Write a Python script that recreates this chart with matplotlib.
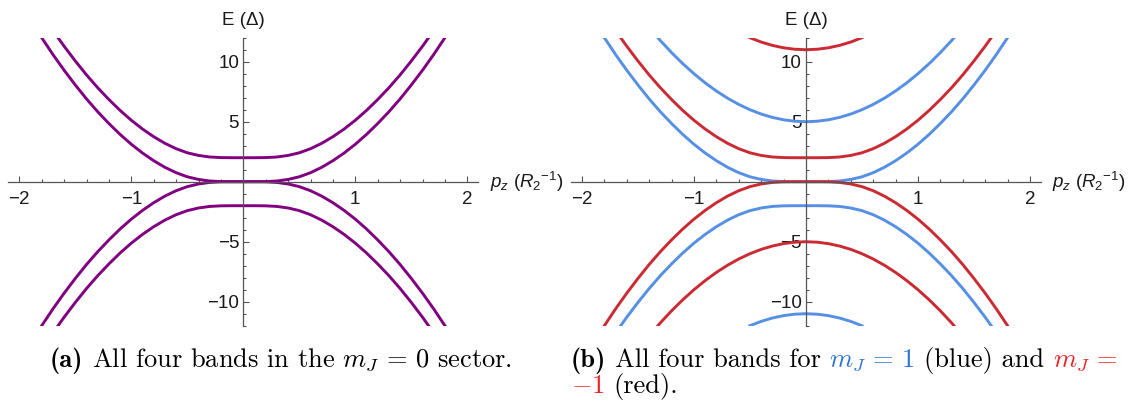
# -*- coding: utf-8 -*-
"""
Band dispersion E(p_z) for the m_J = 0 sector and the m_J = +/-1 sectors.
"""
#%%
import numpy as np
import matplotlib
matplotlib.use('Agg')
import matplotlib.pyplot as plt
from matplotlib.ticker import MultipleLocator

plt.rcParams['font.family'] = 'Liberation Sans'
plt.rcParams['mathtext.fontset'] = 'custom'
plt.rcParams['mathtext.rm'] = 'Liberation Sans'
plt.rcParams['mathtext.it'] = 'Liberation Sans:italic'
plt.rcParams['mathtext.bf'] = 'Liberation Sans:bold'

#%% Band energies (units of Delta) sampled along p_z (units of 1/R_2)
p_wide = [-1.9, -1.8, -1.7, -1.6, -1.5, -1.4, -1.3, -1.2, -1.1, -1.0,
          -0.9, -0.8, -0.7, -0.6, -0.5, -0.4, -0.3, -0.2, -0.1, 0.0,
          0.1, 0.2, 0.3, 0.4, 0.5, 0.6, 0.7, 0.8, 0.9,
          1.0, 1.1, 1.2, 1.3, 1.4, 1.5, 1.6, 1.7, 1.8, 1.9]

# gapped band with minimum at +2
e_outer_up = [15.47, 14.00, 12.60, 11.29, 10.06, 8.90, 7.83, 6.85, 5.94, 5.12,
              4.39, 3.75, 3.20, 2.75, 2.41, 2.19, 2.06, 2.01, 2.00, 2.00,
              2.00, 2.01, 2.06, 2.19, 2.41, 2.75, 3.20, 3.75, 4.39,
              5.12, 5.94, 6.85, 7.83, 8.90, 10.06, 11.29, 12.60, 14.00, 15.47]
# band touching zero from above
e_inner_up = [13.47, 12.00, 10.60, 9.29, 8.06, 6.90, 5.83, 4.85, 3.94, 3.12,
              2.39, 1.75, 1.20, 0.75, 0.41, 0.19, 0.06, 0.01, 0.00, 0.00,
              0.00, 0.01, 0.06, 0.19, 0.41, 0.75, 1.20, 1.75, 2.39,
              3.12, 3.94, 4.85, 5.83, 6.90, 8.06, 9.29, 10.60, 12.00, 13.47]
# band touching zero from below
e_inner_dn = [-13.47, -12.00, -10.60, -9.29, -8.06, -6.90, -5.83, -4.85, -3.94, -3.12,
              -2.39, -1.75, -1.20, -0.75, -0.41, -0.19, -0.06, -0.01, 0.00, 0.00,
              0.00, -0.01, -0.06, -0.19, -0.41, -0.75, -1.20, -1.75, -2.39,
              -3.12, -3.94, -4.85, -5.83, -6.90, -8.06, -9.29, -10.60, -12.00, -13.47]
# gapped band with maximum at -2
e_outer_dn = [-15.47, -14.00, -12.60, -11.29, -10.06, -8.90, -7.83, -6.85, -5.94, -5.12,
              -4.39, -3.75, -3.20, -2.75, -2.41, -2.19, -2.06, -2.01, -2.00, -2.00,
              -2.00, -2.01, -2.06, -2.19, -2.41, -2.75, -3.20, -3.75, -4.39,
              -5.12, -5.94, -6.85, -7.83, -8.90, -10.06, -11.29, -12.60, -14.00, -15.47]

# parabolic bands at +5 (m_J = 1) and -5 (m_J = -1)
p_mid = [-1.4, -1.3, -1.2, -1.1, -1.0, -0.9, -0.8, -0.7, -0.6, -0.5,
         -0.4, -0.3, -0.2, -0.1, 0.0, 0.1, 0.2, 0.3, 0.4, 0.5,
         0.6, 0.7, 0.8, 0.9, 1.0, 1.1, 1.2, 1.3, 1.4]
e_par_plus = [12.84, 11.76, 10.76, 9.84, 9.00, 8.24, 7.56, 6.96, 6.44, 6.00,
              5.64, 5.36, 5.16, 5.04, 5.00, 5.04, 5.16, 5.36, 5.64, 6.00,
              6.44, 6.96, 7.56, 8.24, 9.00, 9.84, 10.76, 11.76, 12.84]
e_par_minus = [-12.84, -11.76, -10.76, -9.84, -9.00, -8.24, -7.56, -6.96, -6.44, -6.00,
               -5.64, -5.36, -5.16, -5.04, -5.00, -5.04, -5.16, -5.36, -5.64, -6.00,
               -6.44, -6.96, -7.56, -8.24, -9.00, -9.84, -10.76, -11.76, -12.84]

# high-energy arcs at +11 (m_J = -1) and -11 (m_J = 1)
p_arc = [-0.5, -0.4, -0.3, -0.2, -0.1, 0.0, 0.1, 0.2, 0.3, 0.4, 0.5]
e_arc_plus = [12.00, 11.64, 11.36, 11.16, 11.04, 11.00, 11.04, 11.16, 11.36, 11.64, 12.00]
e_arc_minus = [-12.00, -11.64, -11.36, -11.16, -11.04, -11.00, -11.04, -11.16, -11.36, -11.64, -12.00]

purple = '#800080'
blue = '#5590E4'
red = '#CC2A33'
cap_blue = '#2D74D6'
cap_red = '#EE2222'
axis_grey = '#555555'
text_col = '#1a1a1a'
label_size = 13.5

#%% Axes styled like crossing coordinate axes
def band_axes(ax):
    ax.set_xlim(-2.1, 2.1)
    ax.set_ylim(-12, 12)
    ax.patch.set_visible(False)
    for side in ('top', 'right'):
        ax.spines[side].set_visible(False)
    for side in ('left', 'bottom'):
        ax.spines[side].set_position('zero')
        ax.spines[side].set_color(axis_grey)
        ax.spines[side].set_linewidth(0.9)
    ax.set_xticks([-2, -1, 1, 2], ['\u22122', '\u22121', '1', '2'])
    ax.xaxis.set_minor_locator(MultipleLocator(0.2))
    ax.set_yticks([-10, -5, 5, 10], ['\u221210', '\u22125', '5', '10'])
    ax.yaxis.set_minor_locator(MultipleLocator(1))
    ax.tick_params(which='both', direction='in', color=axis_grey, width=0.8,
                   labelcolor=text_col, labelsize=label_size)
    ax.tick_params(which='major', length=4)
    ax.tick_params(which='minor', length=2.5)
    ax.tick_params(axis='x', pad=7)
    ax.tick_params(axis='y', pad=3)
    ax.annotate('E (\u0394)', xy=(0, 12), xytext=(0, 6), textcoords='offset points',
                ha='center', va='bottom', fontsize=label_size, color=text_col,
                annotation_clip=False)
    ax.annotate(r'$p_z\ (R_2{}^{-1})$', xy=(2.1, 0), xytext=(8, 0),
                textcoords='offset points', ha='left', va='center',
                fontsize=label_size, color=text_col, annotation_clip=False)


fig = plt.figure(figsize=(11.28, 4.03), dpi=100)
ax_a = fig.add_axes([0.0072, 0.1918, 0.417, 0.7146])
ax_b = fig.add_axes([0.5060, 0.1918, 0.417, 0.7146])
lw = 2.1

# (a) m_J = 0
for e in (e_outer_up, e_inner_up, e_inner_dn, e_outer_dn):
    ax_a.plot(p_wide, e, color=purple, lw=lw)
band_axes(ax_a)

# (b) m_J = 1 in blue, m_J = -1 in red
ax_b.plot(p_mid, e_par_plus, color=blue, lw=lw)
ax_b.plot(p_wide, e_inner_up, color=blue, lw=lw)
ax_b.plot(p_wide, e_outer_dn, color=blue, lw=lw)
ax_b.plot(p_arc, e_arc_minus, color=blue, lw=lw)
ax_b.plot(p_arc, e_arc_plus, color=red, lw=lw)
ax_b.plot(p_wide, e_outer_up, color=red, lw=lw)
ax_b.plot(p_wide, e_inner_dn, color=red, lw=lw)
ax_b.plot(p_mid, e_par_minus, color=red, lw=lw)
band_axes(ax_b)

#%% Captions, written piece by piece so the math can be coloured
cap_size = 19
renderer = fig.canvas.get_renderer()
space = 0.333 * cap_size * fig.dpi / 72.0 / fig.bbox.width


def caption(x, y, pieces):
    for s, col, fam in pieces:
        if s is None:
            x += space
            continue
        t = fig.text(x, y, s, color=col, fontsize=cap_size, family=fam,
                     math_fontfamily='cm', ha='left', va='baseline')
        x += t.get_window_extent(renderer).width / fig.bbox.width
    return x


gap = (None, None, None)
caption(0.0443, 0.090, [('(a)', 'k', 'cmb10'), gap,
                        (r'All four bands in the $m_J\,=\,0$ sector.', 'k', 'cmr10')])
caption(0.506, 0.090, [('(b)', 'k', 'cmb10'), gap,
                       ('All four bands for', 'k', 'cmr10'), gap,
                       (r'$m_J\,=\,1$', cap_blue, 'cmr10'), gap,
                       ('(blue) and', 'k', 'cmr10'), gap,
                       (r'$m_J\,=$', cap_red, 'cmr10')])
caption(0.506, 0.025, [('$-1$', cap_red, 'cmr10'), gap, ('(red).', 'k', 'cmr10')])

fig.savefig('out.png', dpi=100)
